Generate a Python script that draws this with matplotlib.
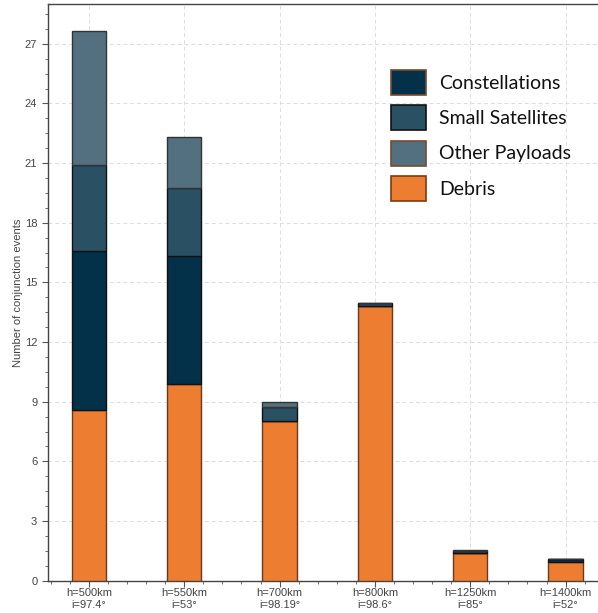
import matplotlib
matplotlib.use("Agg")
import matplotlib.pyplot as plt
import numpy as np
from matplotlib.ticker import MultipleLocator
from matplotlib.patches import Patch

categories = ["h=500km\ni=97.4°", "h=550km\ni=53°", "h=700km\ni=98.19°",
              "h=800km\ni=98.6°", "h=1250km\ni=85°", "h=1400km\ni=52°"]
debris = [8.58, 9.89, 8.04, 13.8, 1.38, 0.93]
constellations = [8.01, 6.43, 0.0, 0.0, 0.0, 0.15]
small_satellites = [4.29, 3.41, 0.71, 0.15, 0.10, 0.0]
other_payloads = [6.76, 2.58, 0.25, 0.03, 0.06, 0.0]

c_const = "#033149"
c_small = "#2a5064"
c_other = "#52707f"
c_debris = "#ed7d31"

fig = plt.figure(figsize=(5.98, 6.13), dpi=100)
ax = fig.add_axes([47.7 / 598, 32.3 / 613, 1 - 47.7 / 598, (580.7 - 4) / 613])

x = np.arange(len(categories))
w = 0.36
d = np.array(debris)
c = np.array(constellations)
s = np.array(small_satellites)
o = np.array(other_payloads)

ax.bar(x, d, w, color=c_debris, edgecolor="#6b3a1a", linewidth=1.0, zorder=3)
ax.bar(x, c, w, bottom=d, color=c_const, edgecolor="#111111", linewidth=1.0, zorder=3)
ax.bar(x, s, w, bottom=d + c, color=c_small, edgecolor="#111111", linewidth=1.0, zorder=3)
ax.bar(x, o, w, bottom=d + c + s, color=c_other, edgecolor="#333333", linewidth=1.0, zorder=3)

ax.set_xlim(-0.433, 5.34)
ax.set_ylim(0, 29)
ax.set_xticks(x)
ax.set_xticklabels(categories, fontsize=8, color="#444444", family="Liberation Sans",
                   linespacing=1.2)
ax.xaxis.set_minor_locator(MultipleLocator(0.2))
ax.yaxis.set_major_locator(MultipleLocator(3))
ax.yaxis.set_minor_locator(MultipleLocator(0.75))
for lab in ax.get_yticklabels():
    lab.set_fontsize(8)
    lab.set_color("#444444")
    lab.set_family("Liberation Sans")
ax.tick_params(which="major", length=4, width=0.8, color="#555555", direction="out")
ax.tick_params(which="minor", length=2.5, width=0.6, color="#555555", direction="out")
ax.tick_params(axis="x", pad=1.5)

ax.grid(True, which="major", linestyle=(0, (4, 3)), color="#dddddd", linewidth=0.7, zorder=0)
ax.set_axisbelow(True)

for side in ["left", "bottom", "top"]:
    ax.spines[side].set_color("#444444")
    ax.spines[side].set_linewidth(1.0)
ax.spines["right"].set_visible(False)

ax.set_ylabel("Number of conjunction events", fontsize=8, color="#444444",
              family="Liberation Sans", labelpad=1)

handles = [
    Patch(facecolor=c_const, edgecolor="#7a4a30", linewidth=1.2, label="Constellations"),
    Patch(facecolor=c_small, edgecolor="#111111", linewidth=1.2, label="Small Satellites"),
    Patch(facecolor=c_other, edgecolor="#7a4a30", linewidth=1.2, label="Other Payloads"),
    Patch(facecolor=c_debris, edgecolor="#7a3d10", linewidth=1.2, label="Debris"),
]
fs = 14
leg = ax.legend(handles=handles, loc="upper left",
                bbox_to_anchor=((391 - 47.7) / (598 - 47.7), 1 - (70 - 4) / 576.7),
                frameon=False, prop={"family": "Lato", "size": fs},
                handlelength=1.8, handleheight=1.6, handletextpad=0.67,
                labelspacing=0.53, borderpad=0, borderaxespad=0)
for t in leg.get_texts():
    t.set_color("#111111")

fig.savefig("out.png", dpi=100)
